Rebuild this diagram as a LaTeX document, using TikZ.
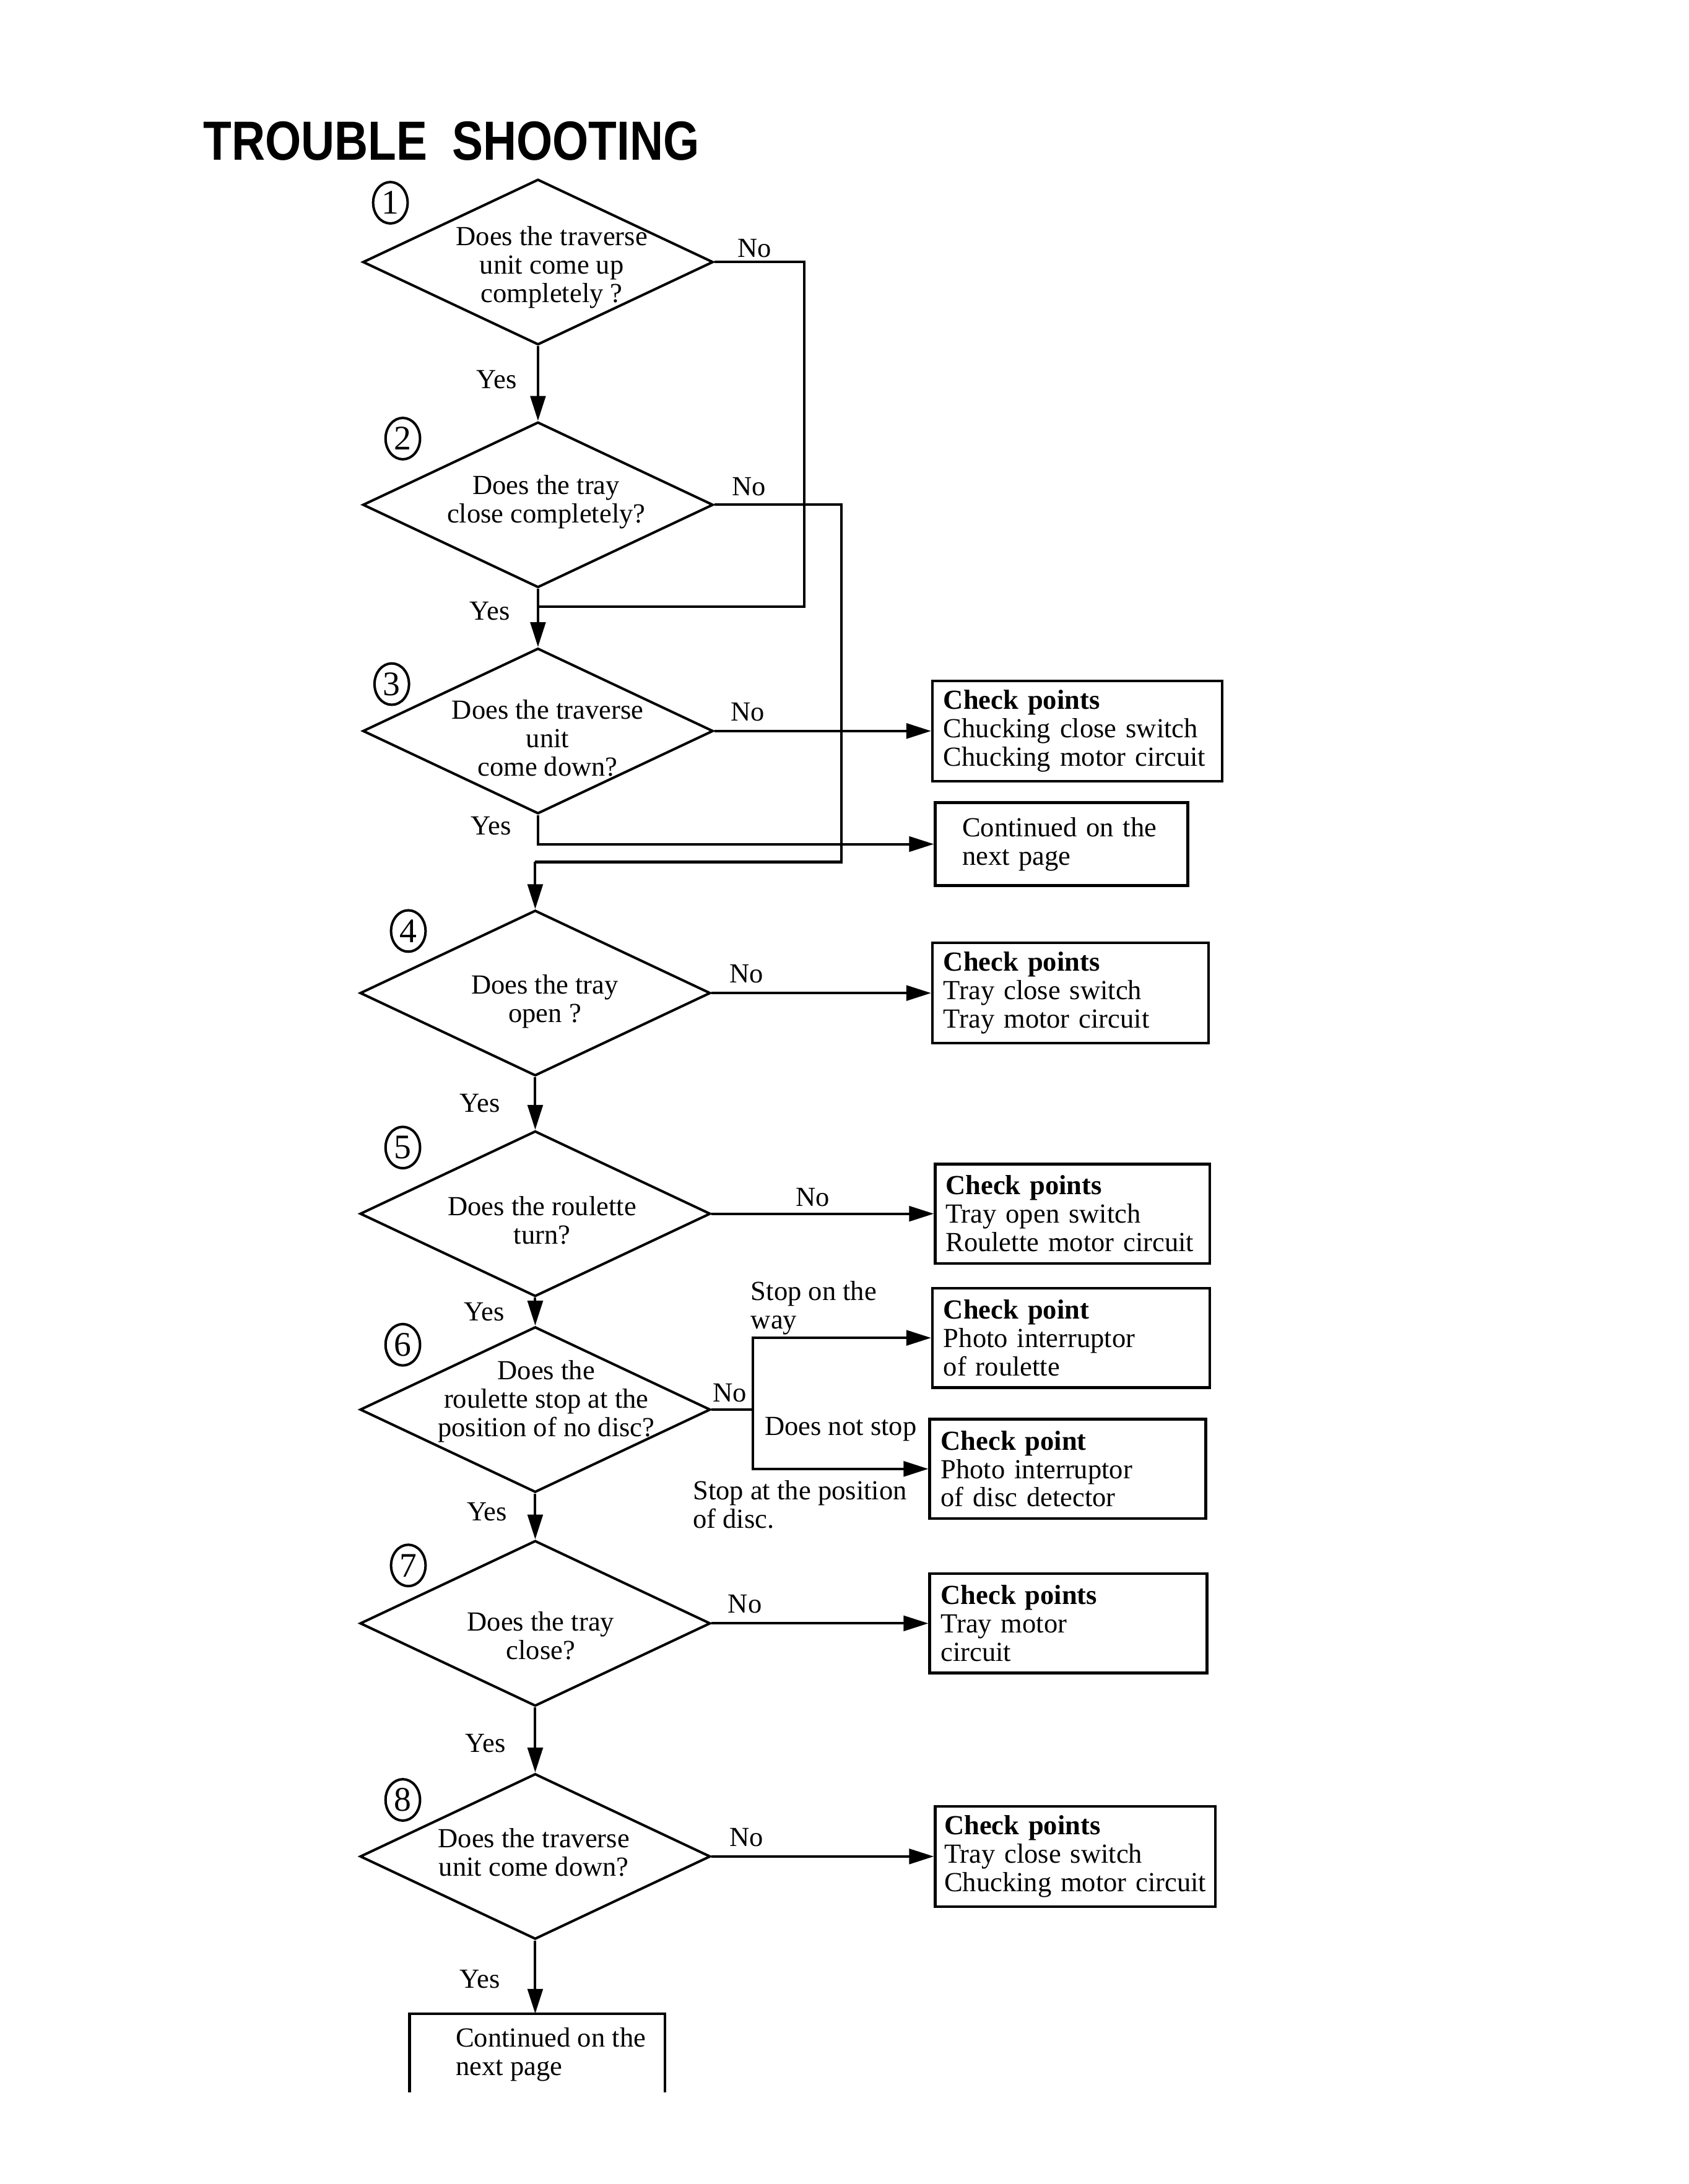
\documentclass[tikz,border=0pt]{standalone}
\usepackage{fontspec}
\setmainfont{Liberation Serif}
\newfontfamily\headfont[FakeStretch=0.84]{Liberation Sans}
\usetikzlibrary{shapes.geometric,arrows.meta}

\tikzset{
  decision/.style={draw, diamond, line width=0.9pt, minimum width=127pt,
    minimum height=60pt, inner sep=0pt},
  qtext/.style={align=center, inner sep=0pt},
  check/.style={draw, line width=1pt, anchor=west, align=left,
    inner xsep=4pt, minimum height=36pt, text width=#1},
  check/.default=92pt,
  lab/.style={inner sep=0pt},
  numring/.style={draw, ellipse, line width=0.9pt, inner sep=0pt,
    minimum width=12.5pt, minimum height=15pt, font=\fontsize{12.5}{12.5}\selectfont},
  title/.style={anchor=base west, inner sep=0pt,
    font=\headfont\bfseries\fontsize{20}{20}\selectfont},
  line/.style={line width=0.9pt},
  arrow/.style={line, -{Triangle[length=9pt,width=5.5pt]}}
}

\begin{document}
\begin{tikzpicture}[x=0.5pt, y=-0.5pt, font=\fontsize{10}{10.3}\selectfont]
  \useasboundingbox (0,0) rectangle (1224,1583.5);

  % Title
  \node[title] (head) at (147,116) {TROUBLE\hspace{0.45em}SHOOTING};

  % Questions
  \node[decision, label={[qtext, shift={(10,4)}]center:Does the traverse\\unit come up\\completely ?}] (d1) at (390,190) {};
  \node[decision, label={[qtext, shift={(6,-2)}]center:Does the tray\\close completely?}] (d2) at (390,366) {};
  \node[decision, label={[qtext, shift={(7,5)}]center:Does the traverse\\unit\\come down?}] (d3) at (390,530) {};
  \node[decision, label={[qtext, shift={(7,6)}]center:Does the tray\\open ?}] (d4) at (388,720) {};
  \node[decision, label={[qtext, shift={(5,5)}]center:Does the roulette\\turn?}] (d5) at (388,880) {};
  \node[decision, label={[qtext, shift={(8,-6)}]center:Does the\\roulette stop at the\\position of no disc?}] (d6) at (388,1022) {};
  \node[decision, label={[qtext, shift={(4,9)}]center:Does the tray\\close?}] (d7) at (388,1177) {};
  \node[decision, label={[qtext, shift={(-1,-3)}]center:Does the traverse\\unit come down?}] (d8) at (388,1346) {};

  % Step numbers
  \foreach \i/\x/\y in {1/283/147, 2/292/318, 3/284/496, 4/296/675,
                        5/292/832, 6/292/975, 7/296/1135, 8/292/1305}
    \node[numring] (num\i) at (\x,\y) {\i};

  % Check points
  \node[check=97pt] (cp1) at (675,530) {\textbf{Check points}\\Chucking close switch\\Chucking motor circuit};
  \node[check=72pt, inner xsep=9.75pt, minimum height=30pt] (cont1) at (677,612) {Continued on the\\next page};
  \node[check=92pt] (cp3) at (675,720) {\textbf{Check points}\\Tray close switch\\Tray motor circuit};
  \node[check=92pt, inner xsep=3.75pt] (cp4) at (677,880) {\textbf{Check points}\\Tray open switch\\Roulette motor circuit};
  \node[check=92.5pt] (cp5) at (675,970) {\textbf{Check point}\\Photo interruptor\\of roulette};
  \node[check=92pt] (cp6) at (673,1065) {\textbf{Check point}\\Photo interruptor\\of disc detector};
  \node[check=92.5pt] (cp7) at (673,1177) {\textbf{Check points}\\Tray motor\\circuit};
  \node[check=95pt, inner xsep=3.25pt] (cp8) at (677,1346) {\textbf{Check points}\\Tray close switch\\Chucking motor circuit};

  % Open box at the foot of the page
  \coordinate (endtop) at (388,1460);
  \draw[line, line width=1pt] (297,1517) |- (482,1460) -- (482,1517);
  \node[lab, anchor=north west, align=left] (cont2) at (330,1470) {Continued on the\\next page};

  % Bends
  \coordinate (j1) at (390,440);
  \coordinate (r1) at (583,440);
  \coordinate (j2) at (388,625);
  \coordinate (r2) at (610,625);
  \coordinate (s6) at (546,1022);

  % Yes path
  \draw[arrow] (d1.south) -- (d2.north);
  \draw[arrow] (d2.south) -- (d3.north);
  \draw[arrow] (d3.south) |- (cont1.west);
  \draw[arrow] (j2) -- (d4.north);
  \draw[arrow] (d4.south) -- (d5.north);
  \draw[arrow] (d5.south) -- (d6.north);
  \draw[arrow] (d6.south) -- (d7.north);
  \draw[arrow] (d7.south) -- (d8.north);
  \draw[arrow] (d8.south) -- (endtop);

  % No path
  \draw[line] (d1.east) -| (r1) -- (j1);
  \draw[line] (d2.east) -| (r2) -- (j2);
  \draw[arrow] (d3.east) -- (cp1.west);
  \draw[arrow] (d4.east) -- (cp3.west);
  \draw[arrow] (d5.east) -- (cp4.west);
  \draw[line] (d6.east) -- (s6);
  \draw[arrow] (s6) |- (cp5.west);
  \draw[arrow] (s6) |- (cp6.west);
  \draw[arrow] (d7.east) -- (cp7.west);
  \draw[arrow] (d8.east) -- (cp8.west);

  % Yes / No labels
  \foreach \i/\x/\y in {1/547/180, 2/543/353, 3/542/516, 4/541/706,
                        5/589/868, 6/529/1010, 7/540/1163, 8/541/1332}
    \node[lab] (no\i) at (\x,\y) {No};
  \foreach \i/\x/\y in {1/360/275, 2/355/443, 3/356/599, 4/348/800,
                        5/351/951, 6/353/1096, 7/352/1264, 8/348/1435}
    \node[lab] (yes\i) at (\x,\y) {Yes};

  % Branch notes at step 6
  \node[lab, anchor=south west, align=left] (way) at (544,968) {Stop on the\\way};
  \node[lab, anchor=west] (nostop) at (554,1036) {Does not stop};
  \node[lab, anchor=north west, align=left] (atdisc) at (502,1073) {Stop at the position\\of disc.};
\end{tikzpicture}
\end{document}
